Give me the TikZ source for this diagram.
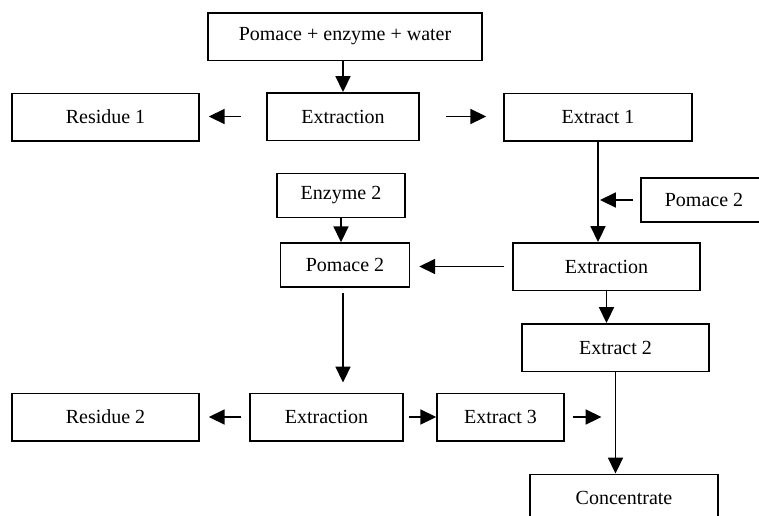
\documentclass[tikz,border=0pt]{standalone}
\usepackage{fontspec}
\setmainfont{Liberation Serif}
\usetikzlibrary{arrows.meta, calc, positioning}

\tikzset{
    stage/.style={draw, rectangle, line width=0.9pt, inner sep=0pt,
        minimum height=28.5pt, font=\fontsize{12}{14}\selectfont},
    small stage/.style={stage, minimum height=26.4pt},
    flow/.style={line width=0.9pt, -{Triangle[length=9.5pt, width=9pt]}}
}

\begin{document}
\begin{tikzpicture}[x=0.6pt, y=-0.6pt]
                        \useasboundingbox (0, 0) rectangle (759, 515);
                        \clip (0, 0) rectangle (759, 515);

                        \begin{scope}
                            \node[stage, minimum width=164.4pt] (pew) at (345, 36.5) {Pomace + enzyme + water};
                            \node[stage, minimum width=91.2pt] (ext1) at (343, 116.5) {Extraction};
                            \node[stage, minimum width=112.2pt] (res1) at (105.5, 117) {Residue 1};
                            \node[stage, minimum width=112.8pt] (extr1) at (598, 117) {Extract 1};
                        \end{scope}

                        \begin{scope}
                            \node[small stage, minimum width=75.6pt] (pom2r) at (704, 200) {Pomace 2};
                            \node[small stage, minimum width=76.8pt] (enz2) at (341, 195.5) {Enzyme 2};
                            \node[small stage, minimum width=77.4pt] (pom2m) at (345, 265) {Pomace 2};
                            \node[stage, minimum width=112.2pt] (ext2) at (606.5, 266.5) {Extraction};
                            \node[stage, minimum width=112.2pt] (extr2) at (615.5, 347.5) {Extract 2};
                        \end{scope}

                        \begin{scope}
                            \node[stage, minimum width=112.2pt] (res2) at (105.5, 417) {Residue 2};
                            \node[stage, minimum width=91.8pt] (ext3) at (326.5, 417) {Extraction};
                            \node[stage, minimum width=76.2pt] (extr3) at (500.5, 417) {Extract 3};
                            \node[stage, minimum width=112.8pt] (conc) at (624, 498) {Concentrate};
                        \end{scope}

                        \coordinate (join) at ($(extr2.south |- extr3.east) + (-14, 0)$);

                        \draw[flow] (ext1.north |- pew.south) -- (ext1.north);
                        \draw[flow] ($(ext1.west) + (-25, 0)$) -- ($(res1.east |- ext1.west) + (9, 0)$);
                        \draw[flow] ($(ext1.east) + (26, 0)$) -- ($(extr1.west |- ext1.east) + (-17, 0)$);
                        \draw[flow] (extr1.south) -- (extr1.south |- ext2.north);
                        \draw[flow] ($(pom2r.west) + (-7, 0)$) -- ($(extr1.south |- pom2r.west) + (2, 0)$);
                        \draw[flow] (enz2.south) -- (enz2.south |- pom2m.north);
                        \draw[flow] ($(ext2.west) + (-8, 0)$) -- ($(pom2m.east |- ext2.west) + (9, 0)$);
                        \draw[flow] (ext2.south) -- (ext2.south |- extr2.north);
                        \draw[flow] ($(pom2m.south) + (-2, 5)$) -- ($(pom2m.south |- ext3.north) + (-2, -10)$);
                        \draw[flow] ($(ext3.west) + (-8, 0)$) -- ($(res2.east) + (9, 0)$);
                        \draw[flow] ($(ext3.east) + (5, 0)$) -- (extr3.west);
                        \draw[flow] ($(extr3.east) + (8, 0)$) -- (join);
                        \draw[flow] (extr2.south) -- (extr2.south |- conc.north);
\end{tikzpicture}
\end{document}
